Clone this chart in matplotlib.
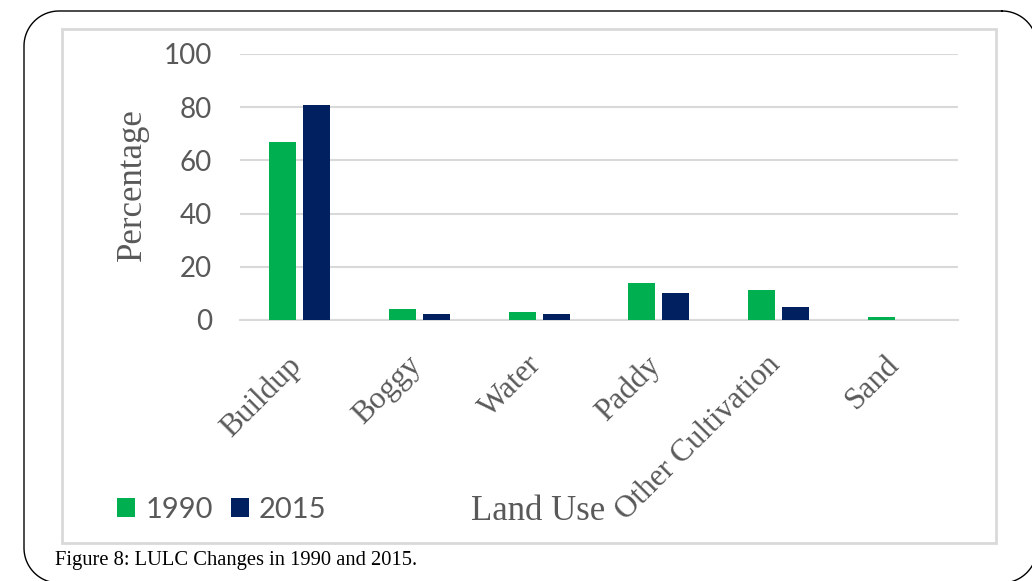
import matplotlib.pyplot as plt
import numpy as np
from matplotlib.patches import Rectangle
from matplotlib.transforms import ScaledTranslation

categories = ["Buildup", "Boggy", "Water", "Paddy", "Other Cultivation", "Sand"]
years = ["1990", "2015"]
values_1990 = [67, 4.1, 3, 14, 11.3, 1.2]
values_2015 = [81, 2.4, 2.3, 10, 5, 0]
yticks = [0, 20, 40, 60, 80, 100]

green = "#00B050"
navy = "#002060"
gray_txt = "#595959"
W, H = 1032, 581

fig = plt.figure(figsize=(W / 100, H / 100), dpi=100)

# background overlay in pixel units for the frames
bg = fig.add_axes([0, 0, 1, 1], zorder=-1)
bg.set_xlim(0, W)
bg.set_ylim(H, 0)
bg.axis("off")

# rounded outer box (pixel coords, y down)
left, top, right, bottom, r = 24, 11, 1037, 583, 35
t = np.linspace(0, np.pi / 2, 30)
px, py = [], []
for cx, cy, a0 in [(right - r, top + r, -np.pi / 2), (right - r, bottom - r, 0),
                   (left + r, bottom - r, np.pi / 2), (left + r, top + r, np.pi)]:
    px.extend(cx + r * np.cos(a0 + t))
    py.extend(cy + r * np.sin(a0 + t))
px.append(px[0])
py.append(py[0])
bg.plot(px, py, color="black", linewidth=1.0, clip_on=False)

bg.add_patch(Rectangle((62, 29), 934, 514, fill=False,
                       edgecolor="#d9d9d9", linewidth=2))

ax = fig.add_axes([240 / W, (H - 320) / H, 718 / W, 266 / H])
ax.patch.set_alpha(0)
x = np.arange(len(categories))
bw = 0.225
b1 = ax.bar(x - 0.142, values_1990, bw, color=green, label=years[0], zorder=3)
b2 = ax.bar(x + 0.142, values_2015, bw, color=navy, label=years[1], zorder=3)

ax.set_xlim(-0.5, len(categories) - 0.5)
ax.set_ylim(0, 100)
ax.set_yticks(yticks)
ax.yaxis.grid(True, color="#d9d9d9", linewidth=1.5, zorder=0)
ax.set_axisbelow(True)
for s in ["top", "right", "left"]:
    ax.spines[s].set_visible(False)
ax.spines["bottom"].set_color("#d9d9d9")
ax.spines["bottom"].set_linewidth(1.5)
ax.tick_params(length=0)
ax.tick_params(axis="y", pad=20, labelsize=20, labelcolor=gray_txt)
for lab in ax.get_yticklabels():
    lab.set_family("Lato")

ax.set_xticks(x)
ax.set_xticklabels(categories, rotation=45, ha="right", va="top",
                   rotation_mode="anchor", family="Liberation Serif",
                   fontsize=22.5, color=gray_txt)
ax.tick_params(axis="x", pad=22)
shift = ScaledTranslation(-13 / 100, 0, fig.dpi_scale_trans)
for lab in ax.get_xticklabels():
    lab.set_transform(lab.get_transform() + shift)

fig.text(132 / W, 1 - 185 / H, "Percentage", rotation=90, ha="center",
         va="center", family="Liberation Serif", fontsize=25, color=gray_txt)
fig.text(538 / W, 1 - 511 / H, "Land Use", ha="center", va="center",
         family="Liberation Serif", fontsize=25, color=gray_txt)

fig.legend(handles=[b1, b2], labels=years, loc="center left",
           bbox_to_anchor=(91 / W, 1 - 510 / H), ncol=2, frameon=False,
           handlelength=0.62, handleheight=0.62, handletextpad=0.35,
           columnspacing=0.6, prop={"family": "Lato", "size": 21},
           labelcolor=gray_txt)

fig.text(55 / W, 1 - 561 / H, "Figure 8: LULC Changes in 1990 and 2015.",
         ha="left", va="center", family="Liberation Serif", fontsize=14.8,
         color="black")

fig.savefig("out.png", dpi=100)
